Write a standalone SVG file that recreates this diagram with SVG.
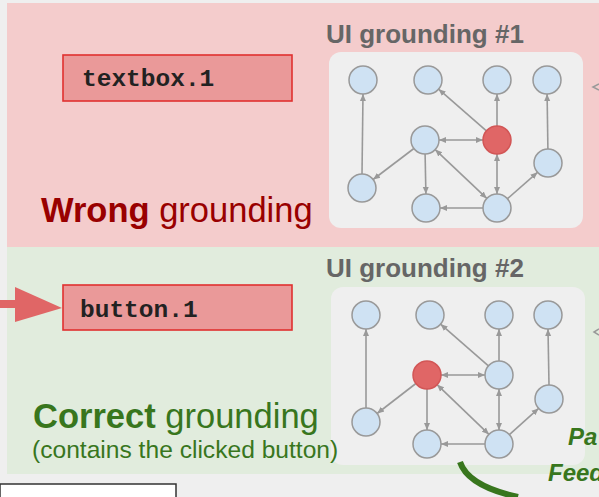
<svg xmlns="http://www.w3.org/2000/svg" width="599" height="497" viewBox="0 0 599 497">
<defs>
<style>
.panelR{fill:#f4cccc}
.panelG{fill:#e1ecdd}
.box{fill:#efefef}
.node{fill:#cfe2f3;stroke:#999;stroke-width:1.5}
.red{fill:#e06666;stroke:#d25656;stroke-width:1.5}
.edge{stroke:#999;stroke-width:1.6;fill:none}
.lbl{fill:#ea9999;stroke:#e0302f;stroke-width:1.6}
.mono{font-family:"Liberation Mono","Courier New",monospace;font-weight:bold;font-size:24.5px;fill:#222}
.ui{font-family:"Liberation Sans",Arial,sans-serif;font-weight:bold;font-size:26px;fill:#666}
.big{font-family:"Liberation Sans",Arial,sans-serif;font-size:34.5px}
.small{font-family:"Liberation Sans",Arial,sans-serif;font-size:24.6px;fill:#38761d}
.fb{font-family:"Liberation Sans",Arial,sans-serif;font-size:24px;font-weight:bold;font-style:italic;fill:#38761d}
</style>
<marker id="ah" markerWidth="8" markerHeight="8" refX="7" refY="4" orient="auto-start-reverse" markerUnits="userSpaceOnUse">
<path d="M0,1 L7,4 L0,7 Z" fill="#999"/>
</marker>
</defs>
<rect width="599" height="497" fill="#efefef"/>
<rect x="7" y="3" width="592" height="244" class="panelR"/>
<rect x="7" y="247" width="592" height="227" class="panelG"/>
<rect x="329" y="52" width="254" height="176" rx="12" class="box"/>
<rect x="331" y="287" width="254" height="178" rx="12" class="box"/>
<rect x="0" y="484" width="176" height="20" fill="#fff" stroke="#333" stroke-width="1.5"/>

<g id="labels">
<g id="textbox1"><rect x="63" y="55" width="229" height="46" class="lbl"/><text x="82" y="86" class="mono">textbox.1</text></g>
<g id="button1"><rect x="63" y="285" width="229" height="45" class="lbl"/><text x="80" y="317" class="mono">button.1</text></g>
<text x="41" y="222" class="big" fill="#990000"><tspan font-weight="bold">Wrong</tspan> grounding</text>
<text x="33" y="428" class="big" fill="#38761d"><tspan font-weight="bold">Correct</tspan> grounding</text>
<text x="32" y="458" class="small">(contains the clicked button)</text>
<text x="326" y="43" class="ui">UI grounding #1</text>
<text x="326" y="277" class="ui">UI grounding #2</text>
<text x="568" y="445" class="fb">Pa</text>
<text x="548" y="481" class="fb">Feed</text>
</g>

<g id="connectors">
<path d="M0,304 L18,304" stroke="#e06666" stroke-width="8"/>
<path d="M15,287 L62,308 L15,322 Z" fill="#e06666"/>
<path d="M460,462 Q468,486 518,497" stroke="#38761d" stroke-width="6" fill="none"/>
<path d="M599,84 L593,87 L599,90" stroke="#999" stroke-width="1.5" fill="none"/>
<path d="M599,329 L594,332 L599,335" stroke="#999" stroke-width="1.5" fill="none"/>
<!-- graph 1 -->
<line x1="362" y1="174" x2="363" y2="94" class="edge" marker-end="url(#ah)"/>
<line x1="413.9" y1="148.5" x2="373.1" y2="179.5" class="edge" marker-end="url(#ah)"/>
<line x1="439" y1="140" x2="483" y2="140" class="edge" marker-start="url(#ah)" marker-end="url(#ah)"/>
<line x1="425.1" y1="154" x2="425.9" y2="194" class="edge" marker-end="url(#ah)"/>
<line x1="435.2" y1="149.6" x2="486.8" y2="198.4" class="edge" marker-start="url(#ah)" marker-end="url(#ah)"/>
<line x1="486.4" y1="130.8" x2="438.6" y2="89.2" class="edge" marker-end="url(#ah)"/>
<line x1="497" y1="126" x2="497" y2="94" class="edge" marker-end="url(#ah)"/>
<line x1="497" y1="154" x2="497" y2="194" class="edge" marker-start="url(#ah)" marker-end="url(#ah)"/>
<line x1="483" y1="208" x2="440" y2="208" class="edge" marker-end="url(#ah)"/>
<line x1="507.5" y1="198.7" x2="537.5" y2="172.3" class="edge" marker-end="url(#ah)"/>
<line x1="547.9" y1="149" x2="547.1" y2="94" class="edge" marker-end="url(#ah)"/>
<!-- graph 2 -->
<line x1="366" y1="408" x2="366" y2="329" class="edge" marker-end="url(#ah)"/>
<line x1="415.9" y1="383.5" x2="377.1" y2="413.5" class="edge" marker-end="url(#ah)"/>
<line x1="441" y1="375" x2="485" y2="375" class="edge" marker-start="url(#ah)" marker-end="url(#ah)"/>
<line x1="427" y1="389" x2="427" y2="430" class="edge" marker-end="url(#ah)"/>
<line x1="437.1" y1="384.7" x2="488.9" y2="434.3" class="edge" marker-start="url(#ah)" marker-end="url(#ah)"/>
<line x1="488.4" y1="365.8" x2="440.6" y2="324.2" class="edge" marker-end="url(#ah)"/>
<line x1="499" y1="361" x2="499" y2="329" class="edge" marker-end="url(#ah)"/>
<line x1="499" y1="389" x2="499" y2="430" class="edge" marker-start="url(#ah)" marker-end="url(#ah)"/>
<line x1="485" y1="444" x2="441" y2="444" class="edge" marker-end="url(#ah)"/>
<line x1="509.4" y1="434.6" x2="538.6" y2="408.4" class="edge" marker-end="url(#ah)"/>
<line x1="549" y1="385" x2="548" y2="329" class="edge" marker-end="url(#ah)"/>
</g>

<g id="graph1">
<g id="g1-t1"><circle cx="363" cy="80" r="14" class="node"/></g>
<g id="g1-t2"><circle cx="428" cy="80" r="14" class="node"/></g>
<g id="g1-t3"><circle cx="497" cy="80" r="14" class="node"/></g>
<g id="g1-t4"><circle cx="547" cy="80" r="14" class="node"/></g>
<g id="g1-m"><circle cx="425" cy="140" r="14" class="node"/></g>
<g id="g1-r"><circle cx="497" cy="140" r="14" class="red"/></g>
<g id="g1-rm"><circle cx="548" cy="163" r="14" class="node"/></g>
<g id="g1-lb"><circle cx="362" cy="188" r="14" class="node"/></g>
<g id="g1-b1"><circle cx="426" cy="208" r="14" class="node"/></g>
<g id="g1-b2"><circle cx="497" cy="208" r="14" class="node"/></g>
</g>
<g id="graph2">
<g id="g2-t1"><circle cx="366" cy="315" r="14" class="node"/></g>
<g id="g2-t2"><circle cx="430" cy="315" r="14" class="node"/></g>
<g id="g2-t3"><circle cx="499" cy="315" r="14" class="node"/></g>
<g id="g2-t4"><circle cx="548" cy="315" r="14" class="node"/></g>
<g id="g2-r"><circle cx="427" cy="375" r="14" class="red"/></g>
<g id="g2-m"><circle cx="499" cy="375" r="14" class="node"/></g>
<g id="g2-rm"><circle cx="549" cy="399" r="14" class="node"/></g>
<g id="g2-lb"><circle cx="366" cy="422" r="14" class="node"/></g>
<g id="g2-b1"><circle cx="427" cy="444" r="14" class="node"/></g>
<g id="g2-b2"><circle cx="499" cy="444" r="14" class="node"/></g>
</g>
</svg>
